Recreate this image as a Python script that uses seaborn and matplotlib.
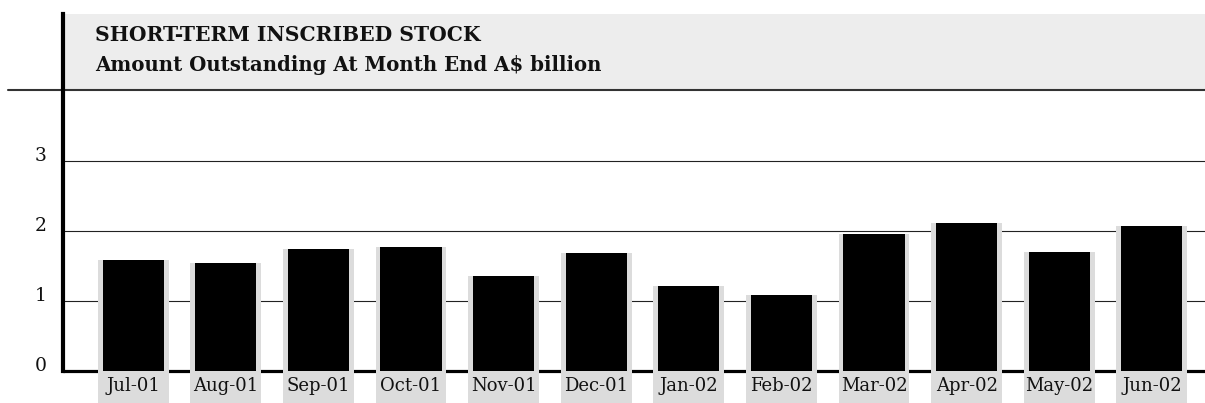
import numpy as np
import matplotlib
matplotlib.use("Agg")
import matplotlib.pyplot as plt
from matplotlib.patches import Rectangle
import seaborn as sns

# Short-term inscribed stock outstanding at month end (A$ billion)
months = ["Jul-01", "Aug-01", "Sep-01", "Oct-01", "Nov-01", "Dec-01",
          "Jan-02", "Feb-02", "Mar-02", "Apr-02", "May-02", "Jun-02"]
values = [1.58, 1.54, 1.74, 1.77, 1.36, 1.68, 1.21, 1.08, 1.95, 2.11, 1.70, 2.07]
y_ticks = [0, 1, 2, 3]

title = "SHORT-TERM INSCRIBED STOCK"
subtitle = "Amount Outstanding At Month End A$ billion"

sns.set_theme(style="white")
plt.rcParams["font.family"] = ["DejaVu Serif"]

W, H, DPI = 1205, 403, 100
fig = plt.figure(figsize=(W / DPI, H / DPI), dpi=DPI)
fig.patch.set_facecolor("white")

# axes: left edge on the vertical rule, bottom on the zero line
ax_left, ax_bottom, ax_top = 63, 32, 14
ax = fig.add_axes([ax_left / W, ax_bottom / H, (W - ax_left) / W, (H - ax_bottom - ax_top) / H])
ax.set_facecolor("white")

px_per_unit = 70.0
ymax = (H - ax_bottom - ax_top) / px_per_unit
strip_bottom = -ax_bottom / px_per_unit
header_bottom = 4.02

# black bars
sns.barplot(x=months, y=values, color="black", saturation=1, width=0.66,
            linewidth=0, ax=ax, zorder=3)

# pale grey column behind every bar, running down through the month label
pos = np.arange(len(months))
ax.bar(pos, np.array(values) - strip_bottom, bottom=strip_bottom, width=0.765,
       color="#dcdcdc", linewidth=0, zorder=2, clip_on=False)

ax.set_xlim(-0.758, 11.574)
ax.set_ylim(0, ymax)
ax.set_axisbelow(False)

# header band
ax.add_patch(Rectangle((0, header_bottom), 1, ymax - header_bottom,
                       transform=ax.get_yaxis_transform(), facecolor="#ededed",
                       edgecolor="none", zorder=0.5, clip_on=False))
ax.plot([-(ax_left - 8) / (W - ax_left), 1], [header_bottom, header_bottom],
        transform=ax.get_yaxis_transform(), color="#333333", lw=1.5,
        clip_on=False, zorder=1)

# grid lines
for v in y_ticks[1:]:
    ax.axhline(v, color="#222222", lw=0.8, zorder=1)
ax.axhline(0, color="black", lw=2.3, zorder=1.5, clip_on=False)

for s in ["top", "right", "bottom"]:
    ax.spines[s].set_visible(False)
ax.spines["left"].set_color("black")
ax.spines["left"].set_linewidth(3.0)
ax.spines["left"].set_zorder(4)

ax.set_yticks(y_ticks)
ax.set_yticklabels([str(v) for v in y_ticks])
ax.tick_params(axis="y", length=0, pad=12, labelsize=13.5, colors="#111111")
for lab in ax.get_yticklabels():
    lab.set_verticalalignment("baseline")

ax.tick_params(axis="x", length=0, pad=4, labelsize=13, colors="#111111")
ax.xaxis.set_zorder(5)
ax.yaxis.set_zorder(5)
ax.set_xlabel("")
ax.set_ylabel("")
ax.grid(False)

fig.text(95 / W, 1 - 41 / H, title, fontsize=14.6, fontweight="bold",
         color="#111111", va="baseline", ha="left")
fig.text(95 / W, 1 - 71 / H, subtitle, fontsize=14.2, fontweight="bold",
         color="#111111", va="baseline", ha="left")

fig.savefig("out.png", dpi=DPI, facecolor="white")
